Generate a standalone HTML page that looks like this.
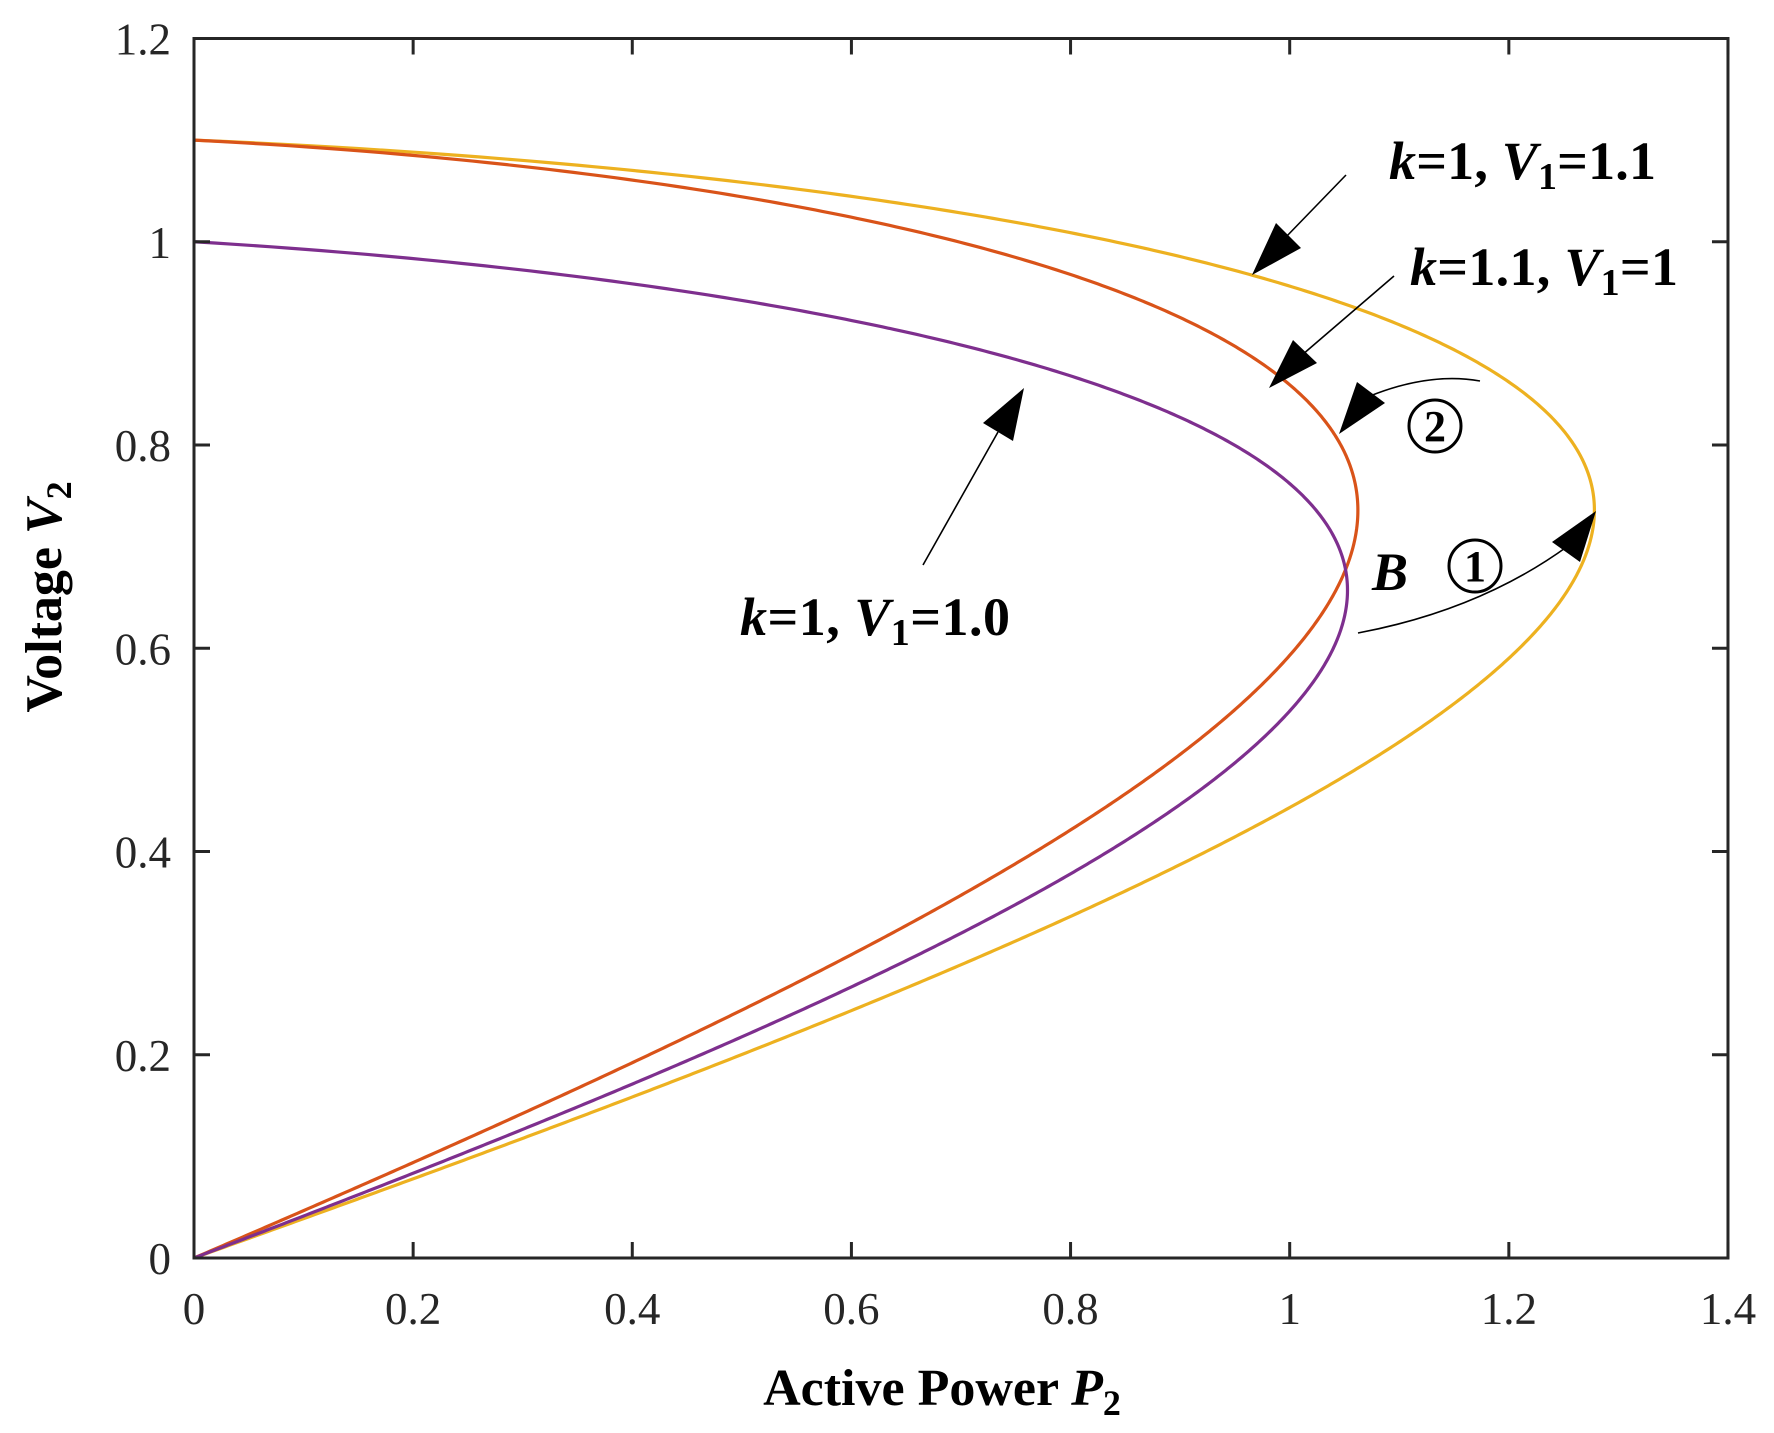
<!DOCTYPE html>
<html><head><meta charset="utf-8"><style>
html,body{margin:0;padding:0;background:#fff;}
svg{display:block;font-family:"Liberation Serif",serif;}
</style></head><body>
<svg id="s" width="1774" height="1433" viewBox="0 0 1774 1433" xmlns="http://www.w3.org/2000/svg">
<rect width="1774" height="1433" fill="#fff"/>
<g id="curves" fill="none" stroke-width="3.2" stroke-linejoin="round"></g>
<g id="axes" stroke="#262626" stroke-width="3" fill="none"></g>
<g id="ticklabels" fill="#262626" font-size="45"></g>
<text x="942" y="1405" text-anchor="middle" font-size="52" font-weight="bold" fill="#000">Active Power <tspan font-style="italic">P</tspan><tspan font-size="36" dy="10">2</tspan></text>
<text transform="translate(61,597) rotate(-90)" text-anchor="middle" font-size="52" font-weight="bold" fill="#000">Voltage <tspan font-style="italic">V</tspan><tspan font-size="36" dy="10">2</tspan></text>
<g font-size="54" font-weight="bold" fill="#000">
<text x="1389" y="179" textLength="267"><tspan font-style="italic">k</tspan>=1, <tspan font-style="italic">V</tspan><tspan font-size="38" dy="10">1</tspan><tspan dy="-10">=1.1</tspan></text>
<text x="1410" y="285" textLength="268"><tspan font-style="italic">k</tspan>=1.1, <tspan font-style="italic">V</tspan><tspan font-size="38" dy="10">1</tspan><tspan dy="-10">=1</tspan></text>
<text x="740" y="635" textLength="270"><tspan font-style="italic">k</tspan>=1, <tspan font-style="italic">V</tspan><tspan font-size="38" dy="10">1</tspan><tspan dy="-10">=1.0</tspan></text>
<text x="1390" y="590" text-anchor="middle" font-style="italic">B</text>
</g>
<g stroke="#000" stroke-width="1.6" fill="none">
<line x1="1346" y1="175" x2="1285" y2="238"/>
<line x1="1394" y1="276" x2="1302" y2="355"/>
<line x1="923" y1="565" x2="998" y2="432"/>
<path d="M1480,381 Q1430,372 1370,396"/>
<path d="M1358,633 Q1480,610 1568,546"/>
<circle cx="1435" cy="426" r="26" stroke-width="3"/>
<circle cx="1475" cy="566" r="26" stroke-width="3"/>
</g>
<g font-size="44" font-weight="bold" fill="#000" text-anchor="middle">
<text x="1435" y="441">2</text>
<text x="1475" y="581">1</text>
</g>
<g fill="#000">
<polygon points="1252,275 1276,223 1301,248"/>
<polygon points="1269,388 1293,340 1317,363"/>
<polygon points="1024,388 983,423 1013,441"/>
<polygon points="1339,434 1357,382 1385,403"/>
<polygon points="1596,511 1552,542 1580,562"/>
</g>
</svg>
<script>
var X0=194,XS=1095.7,Y0=1258,YS=1016.25;
function px(p){return X0+p*XS}function py(v){return Y0-v*YS}
var ns="http://www.w3.org/2000/svg";
function el(t,a,par){var e=document.createElementNS(ns,t);for(var k in a)e.setAttribute(k,a[k]);par.appendChild(e);return e;}
var cg=document.getElementById('curves');
var series=[[1.1,0.421,0.1175,'#EDB120'],[1.1,0.506,0.1186,'#D95319'],[1,0.405,0.16,'#7E2F8E']];
series.forEach(function(s){
 var E=s[0],X=s[1],t=s[2],d='';
 for(var i=0;i<=800;i++){
  var v=E*i/800,v2=v*v;
  var disc=t*t*v2*v2-(1+t*t)*(v2*v2-E*E*v2); if(disc<0)disc=0;
  var p=(-t*v2+Math.sqrt(disc))/(1+t*t);
  var P=p/X;
  d+=(i?'L':'M')+px(P).toFixed(2)+','+py(v).toFixed(2);
 }
 el('path',{d:d,stroke:s[3]},cg);
});
var ag=document.getElementById('axes');
el('rect',{x:X0,y:py(1.2),width:XS*1.4,height:YS*1.2},ag);
var tl=document.getElementById('ticklabels');
for(var i=0;i<=7;i++){var x=px(i*0.2);
 el('line',{x1:x,y1:Y0,x2:x,y2:Y0-16},ag);el('line',{x1:x,y1:py(1.2),x2:x,y2:py(1.2)+16},ag);
 var lab=(i==0?'0':(i==5?'1':(i*0.2).toFixed(1)));
 var tx=el('text',{x:x,y:1324,'text-anchor':'middle'},tl);tx.textContent=lab;}
for(var j=0;j<=6;j++){var y=py(j*0.2);
 el('line',{x1:X0,y1:y,x2:X0+16,y2:y},ag);el('line',{x1:px(1.4),y1:y,x2:px(1.4)-16,y2:y},ag);
 var lab2=(j==0?'0':(j==5?'1':(j*0.2).toFixed(1)));
 var ty=el('text',{x:171,y:y+16,'text-anchor':'end'},tl);ty.textContent=lab2;}
</script>
</body></html>
